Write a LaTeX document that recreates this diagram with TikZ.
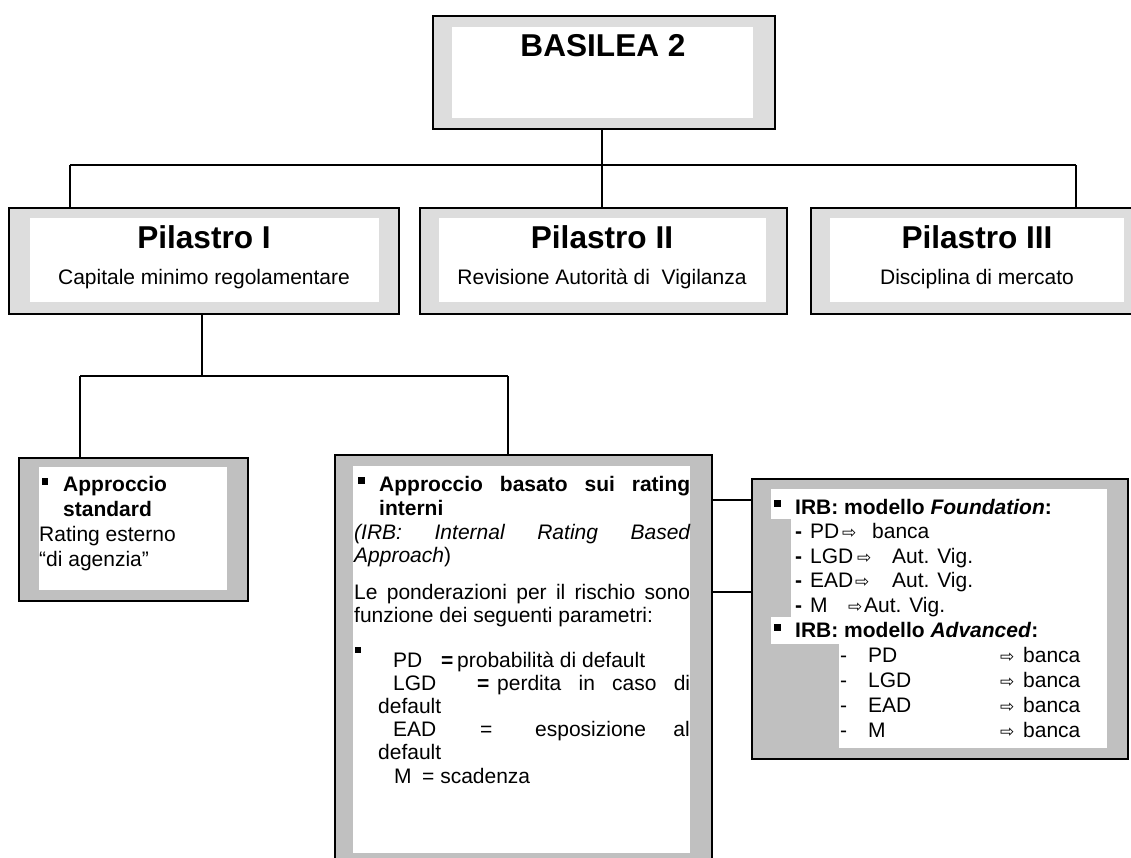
\documentclass[tikz,border=0pt]{standalone}
\usepackage{fontspec}
\setmainfont{Liberation Sans}
\newfontfamily\symfont{DejaVu Sans}
\definecolor{grayA}{HTML}{DDDDDD}
\definecolor{grayB}{HTML}{C0C0C0}
\newcommand\arr{{\symfont\fontsize{17}{17}\selectfont ⇨}}
\begin{document}
\begin{tikzpicture}[x=1pt,y=-1pt,
  boxA/.style={draw=black,line width=1.6pt,fill=grayA,inner sep=0pt,anchor=north west},
  boxB/.style={draw=black,line width=1.6pt,fill=grayB,inner sep=0pt,anchor=north west},
  link/.style={draw=black,line width=1.3pt},
  txt/.style={inner sep=0pt,anchor=base west,font=\fontsize{21}{24}\selectfont},
  ctxt/.style={inner sep=0pt,anchor=base,font=\fontsize{21}{24}\selectfont},
  title/.style={inner sep=0pt,anchor=base,font=\fontsize{31.6}{36}\selectfont\bfseries}
]
\useasboundingbox (0,0) rectangle (1131,857);
\clip (0,0) rectangle (1131,857);
\fill[white] (0,0) rectangle (1131,857);

% ---- boxes ----
\node[boxA,minimum width=342,minimum height=113] (bas) at (432,15) {};
\fill[white] (452,27) rectangle (753,118);
\node[boxA,minimum width=390,minimum height=106] (p1) at (8,207) {};
\fill[white] (30,218) rectangle (379,302);
\node[boxA,minimum width=367,minimum height=106] (p2) at (419,207) {};
\fill[white] (439,218) rectangle (766,302);
\node[boxA,minimum width=334,minimum height=106] (p3) at (810,207) {};
\fill[white] (830,218) rectangle (1124,302);

\node[boxB,minimum width=229,minimum height=143] (std) at (18,457) {};
\fill[white] (39,467) rectangle (227,590);
\node[boxB,minimum width=377,minimum height=420] (irb) at (334,454) {};
\fill[white] (353,466) rectangle (690,853);
\node[boxB,minimum width=376,minimum height=280] (mod) at (751,478) {};
\fill[white] (771,489) rectangle (1107,519);
\fill[white] (791,519) rectangle (1107,617);
\fill[white] (771,617) rectangle (1107,644);
\fill[white] (839,644) rectangle (1107,748);

% ---- connectors ----
\coordinate (j0) at (602,165);
\coordinate (j1) at (70,165);
\coordinate (j3) at (1076,165);
\coordinate (a1) at (70,207);
\coordinate (a2) at (602,207);
\coordinate (a3) at (1076,207);
\draw[link] (bas.south -| j0) -- (j0);
\draw[link] (j1) -- (j3);
\draw[link] (j1) -- (a1);
\draw[link] (j0) -- (a2);
\draw[link] (j3) -- (a3);

\coordinate (k0) at (202,376);
\coordinate (k1) at (80,376);
\coordinate (k2) at (508,376);
\coordinate (b1) at (80,457);
\coordinate (b2) at (508,454);
\draw[link] (p1.south -| k0) -- (k0);
\draw[link] (k1) -- (k2);
\draw[link] (k1) -- (b1);
\draw[link] (k2) -- (b2);

\coordinate (r1) at (711,500);
\coordinate (r2) at (711,592);
\draw[link] (r1) -- (r1 -| mod.west);
\draw[link] (r2) -- (r2 -| mod.west);

% ---- titles ----
\node[title] (tbas) at (603,56) {BASILEA 2};
\node[title] (tp1) at (204,248) {Pilastro I};
\node[ctxt] (sp1) at (204,284) {Capitale minimo regolamentare};
\node[title] (tp2) at (602,248) {Pilastro II};
\node[ctxt] (sp2) at (602,284) {Revisione Autorità di\ \ Vigilanza};
\node[title] (tp3) at (977,248) {Pilastro III};
\node[ctxt] (sp3) at (977,284) {Disciplina di mercato};

% ---- standard box ----
\fill[black] (42,478) rectangle (48,485);
\node[txt,font=\fontsize{21}{24}\selectfont\bfseries] (s1) at (63,491) {Approccio};
\node[txt,font=\fontsize{21}{24}\selectfont\bfseries] (s2) at (63,516) {standard};
\node[txt] (s3) at (39,541) {Rating esterno};
\node[txt] (s4) at (39,566) {“di agenzia”};

% ---- IRB box ----
\fill[black] (358,477) rectangle (365,484);
\node[txt,font=\fontsize{21}{24}\selectfont\bfseries] (i1) at (379,491) {\makebox[311pt][s]{Approccio basato sui rating}};
\node[txt,font=\fontsize{21}{24}\selectfont\bfseries] (i2) at (379,515) {interni};
\node[txt,font=\fontsize{21}{24}\selectfont\itshape] (i3) at (354,539) {\makebox[336pt][s]{(IRB: Internal Rating Based}};
\node[txt] (i4) at (354,562) {\textit{Approach})};
\node[txt] (i5) at (354,599) {\makebox[336pt][s]{Le ponderazioni per il rischio sono}};
\node[txt] (i6) at (354,622) {funzione dei seguenti parametri:};
\fill[black] (355,647) rectangle (361,653);
\node[txt] (i7a) at (393,667) {PD};
\node[txt] (i7b) at (441,667) {\textbf{=}};
\node[txt] (i7c) at (457,667) {probabilità di default};
\node[txt] (i8a) at (393,690) {LGD};
\node[txt] (i8b) at (477,690) {\textbf{=}};
\node[txt] (i8c) at (497,690) {\makebox[193pt][s]{perdita in caso di}};
\node[txt] (i9) at (378,713) {default};
\node[txt] (i10a) at (393,736) {EAD};
\node[txt] (i10b) at (480,736) {=};
\node[txt] (i10c) at (535,736) {esposizione};
\node[ctxt,anchor=base east] (i10d) at (690,736) {al};
\node[txt] (i11) at (378,759) {default};
\node[txt] (i12a) at (394,783) {M};
\node[txt] (i12b) at (422,783) {= scadenza};

% ---- model box ----
\fill[black] (774,500) rectangle (781,507);
\node[txt] (m0) at (795,514) {\textbf{IRB: modello \textit{Foundation}:}};
\node[txt] (m1a) at (795,538) {\textbf{-}};
\node[txt] (m1b) at (810,538) {PD};
\node[txt] (m1c) at (842,538) {\arr};
\node[txt] (m1d) at (872,538) {banca};
\node[txt] (m2a) at (795,563) {\textbf{-}};
\node[txt] (m2b) at (810,563) {LGD};
\node[txt] (m2c) at (857,563) {\arr};
\node[txt] (m2d) at (892,563) {Aut. Vig.};
\node[txt] (m3a) at (795,587) {\textbf{-}};
\node[txt] (m3b) at (810,587) {EAD};
\node[txt] (m3c) at (855,587) {\arr};
\node[txt] (m3d) at (892,587) {Aut. Vig.};
\node[txt] (m4a) at (795,612) {\textbf{-}};
\node[txt] (m4b) at (810,612) {M};
\node[txt] (m4c) at (848,612) {\arr};
\node[txt] (m4d) at (864,612) {Aut. Vig.};
\fill[black] (774,624) rectangle (781,631);
\node[txt] (n0) at (795,637) {\textbf{IRB: modello \textit{Advanced}:}};
\node[txt] (n1a) at (840,662) {-};
\node[txt] (n1b) at (868,662) {PD};
\node[txt] (n1c) at (1000,662) {\arr};
\node[txt] (n1d) at (1023,662) {banca};
\node[txt] (n2a) at (840,687) {-};
\node[txt] (n2b) at (868,687) {LGD};
\node[txt] (n2c) at (1000,687) {\arr};
\node[txt] (n2d) at (1023,687) {banca};
\node[txt] (n3a) at (840,712) {-};
\node[txt] (n3b) at (868,712) {EAD};
\node[txt] (n3c) at (1000,712) {\arr};
\node[txt] (n3d) at (1023,712) {banca};
\node[txt] (n4a) at (840,737) {-};
\node[txt] (n4b) at (868,737) {M};
\node[txt] (n4c) at (1000,737) {\arr};
\node[txt] (n4d) at (1023,737) {banca};
\end{tikzpicture}
\end{document}
